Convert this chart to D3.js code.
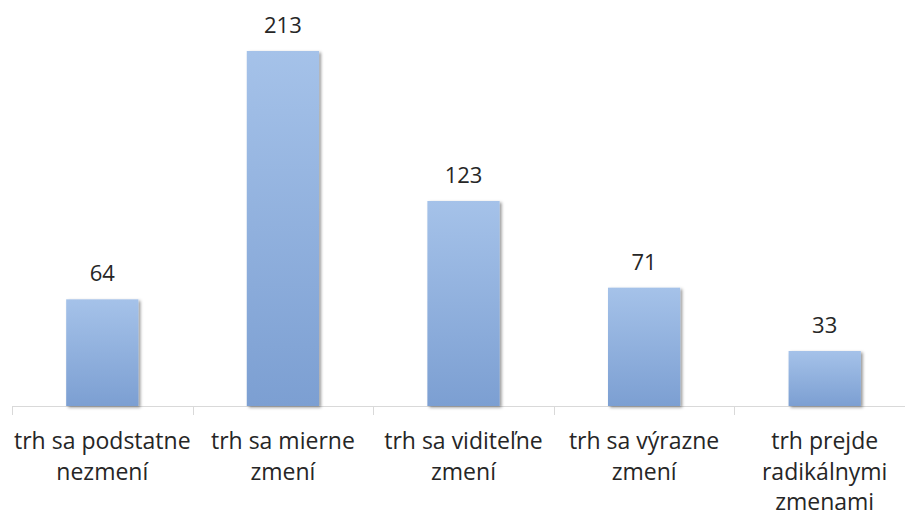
<!DOCTYPE html>
<html><head><meta charset="utf-8">
<script src="https://cdn.jsdelivr.net/npm/d3@7"></script>
<style>html,body{margin:0;padding:0;background:#fff;}</style>
</head><body>
<svg id="chart" width="905" height="517"></svg>
<script>
const categories = ["trh sa podstatne\nnezmení", "trh sa mierne\nzmení", "trh sa viditeľne\nzmení", "trh sa výrazne\nzmení", "trh prejde\nradikálnymi\nzmenami"];
const values = [64, 213, 123, 71, 33];

const svg = d3.select("#chart");
const baseY = 406, topY = 51;
const x = d3.scaleBand().domain(categories).range([12, 915]).paddingInner(0.6).paddingOuter(0.3);
const y = d3.scaleLinear().domain([0, 213]).range([baseY, topY]);

const defs = svg.append("defs");
const grad = defs.append("linearGradient").attr("id","barGrad").attr("x1",0).attr("y1",0).attr("x2",0).attr("y2",1);
grad.append("stop").attr("offset","0%").attr("stop-color","#a5c2e9");
grad.append("stop").attr("offset","100%").attr("stop-color","#7c9fd2");
const f = defs.append("filter").attr("id","shadow").attr("x","-20%").attr("y","-20%").attr("width","140%").attr("height","140%");
f.append("feDropShadow").attr("dx",2).attr("dy",1.5).attr("stdDeviation",1.8).attr("flood-color","#000").attr("flood-opacity",0.4);

// axis line and ticks
const step = x.step();
svg.append("line").attr("x1",12).attr("x2",905).attr("y1",baseY+0.5).attr("y2",baseY+0.5).attr("stroke","#d9d9d9").attr("stroke-width",1);
const tickXs = d3.range(categories.length+1).map(i => 12 + i*step);
svg.selectAll(".tick").data(tickXs).enter().append("line")
  .attr("x1",d=>Math.round(d)+0.5).attr("x2",d=>Math.round(d)+0.5).attr("y1",baseY).attr("y2",baseY+9)
  .attr("stroke","#d9d9d9");

svg.selectAll(".bar").data(values).enter().append("rect")
  .attr("x",(d,i)=>x(categories[i]))
  .attr("width",x.bandwidth())
  .attr("y",d=>y(d))
  .attr("height",d=>baseY-y(d))
  .attr("fill","url(#barGrad)")
  .attr("filter","url(#shadow)");

svg.selectAll(".val").data(values).enter().append("text")
  .attr("x",(d,i)=>x(categories[i])+x.bandwidth()/2)
  .attr("y",d=>y(d)-18)
  .attr("text-anchor","middle")
  .attr("font-family","Open Sans, sans-serif")
  .attr("font-size",22)
  .attr("fill","#262626")
  .text(d=>d);

const lab = svg.selectAll(".lab").data(categories).enter().append("text")
  .attr("text-anchor","middle")
  .attr("font-family","Open Sans, sans-serif")
  .attr("font-size",23)
  .attr("fill","#262626");
lab.each(function(d){
  const cx = x(d)+x.bandwidth()/2;
  d3.select(this).selectAll("tspan").data(d.split("\n")).enter().append("tspan")
    .attr("x",cx).attr("y",(l,j)=>449+j*30.5).text(l=>l);
});
</script>
</body></html>
